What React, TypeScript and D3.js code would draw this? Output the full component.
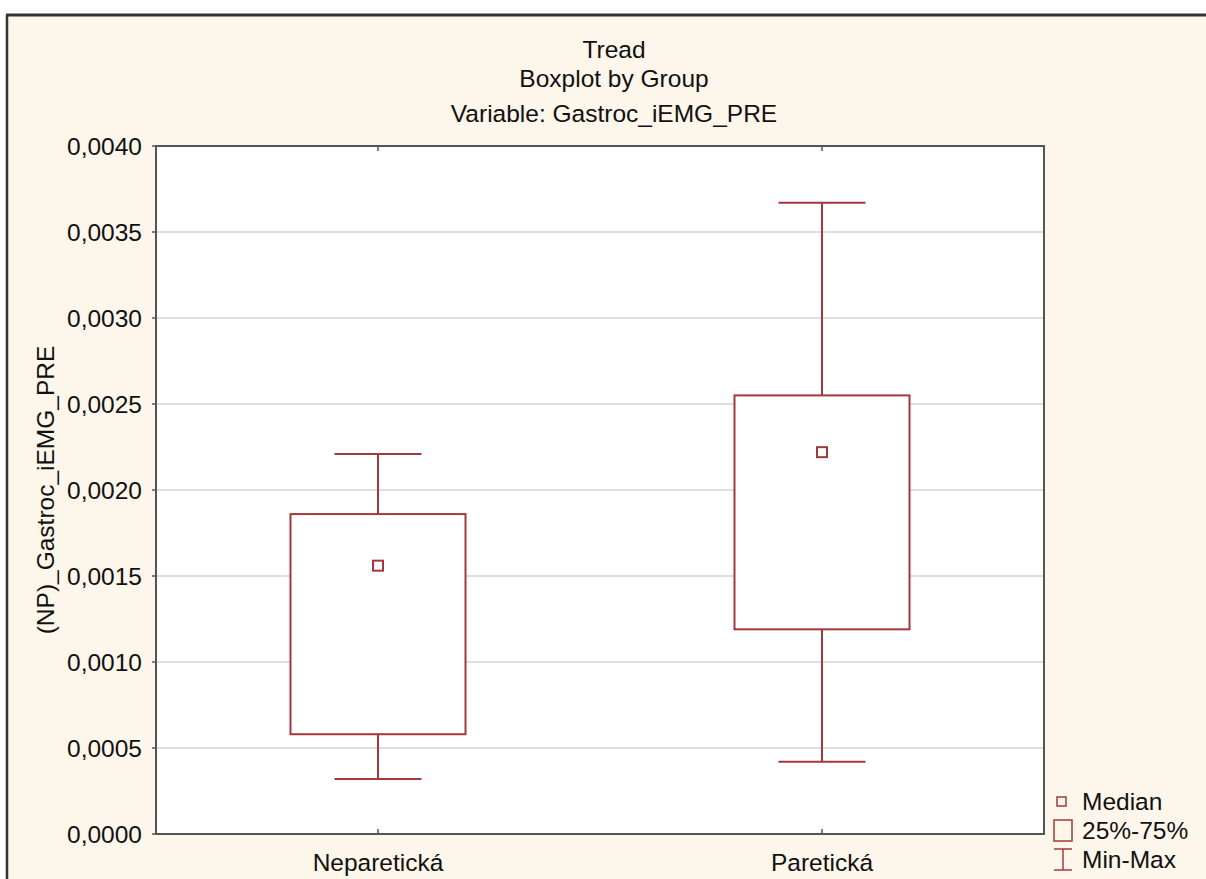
import * as d3 from "d3";

const groups = ["Neparetická", "Paretická"];
const mins = [0.00032, 0.00042];
const q1s = [0.00058, 0.00119];
const medians = [0.00156, 0.00222];
const q3s = [0.00186, 0.00255];
const maxs = [0.00221, 0.00367];
const yTicks = [0, 0.0005, 0.001, 0.0015, 0.002, 0.0025, 0.003, 0.0035, 0.004];
const legendItems = ["Median", "25%-75%", "Min-Max"];
const titleLines = ["Tread", "Boxplot by Group", "Variable: Gastroc_iEMG_PRE"];

export default function App() {
  const W = 1206;
  const H = 879;
  const m = { left: 156, right: 1044, top: 146, bottom: 834 };
  const red = "#a3393c";
  const font = "'Liberation Sans', Arial, sans-serif";
  const fs = 24.5;

  const y = d3.scaleLinear().domain([0, 0.004]).range([m.bottom, m.top]);
  const x = d3.scalePoint<string>().domain(groups).range([m.left, m.right]).padding(0.5);
  const fmt = (v: number) => d3.format(".4f")(v).replace(".", ",");
  const boxW = 175;
  const capW = 87;

  return (
    <svg width={W} height={H} style={{ position: "absolute", left: 0, top: 0, fontFamily: font }}>
      <rect x={0} y={0} width={W} height={H} fill="#ffffff" />
      <rect x={7} y={16} width={W} height={H} fill="#fdf6ea" />
      <line x1={6} x2={W} y1={15} y2={15} stroke="#333" strokeWidth={3} />
      <line x1={7} x2={7} y1={15} y2={H} stroke="#333" strokeWidth={2.5} />

      {titleLines.map((t, i) => (
        <text key={t} x={614} y={[58, 87, 122][i]} textAnchor="middle" fontSize={fs} fill="#111">{t}</text>
      ))}

      <rect x={m.left} y={m.top} width={m.right - m.left} height={m.bottom - m.top} fill="#fff" />
      {yTicks.slice(1, -1).map((t) => (
        <line key={t} x1={m.left} x2={m.right} y1={y(t)} y2={y(t)} stroke="#dedede" strokeWidth={2} />
      ))}
      {yTicks.map((t) => (
        <g key={"t" + t}>
          <line x1={m.left - 4} x2={m.left} y1={y(t)} y2={y(t)} stroke="#555" strokeWidth={1.5} />
          <text x={142} y={y(t) + 9} textAnchor="end" fontSize={fs} fill="#111">{fmt(t)}</text>
        </g>
      ))}
      {groups.map((g) => (
        <g key={"xt" + g}>
          <line x1={x(g)!} x2={x(g)!} y1={m.top} y2={m.top + 5} stroke="#555" strokeWidth={1.5} />
          <line x1={x(g)!} x2={x(g)!} y1={m.bottom} y2={m.bottom - 5} stroke="#555" strokeWidth={1.5} />
          <text x={x(g)!} y={871} textAnchor="middle" fontSize={fs} fill="#111">{g}</text>
        </g>
      ))}

      {groups.map((g, i) => {
        const cx = x(g)!;
        return (
          <g key={"b" + g} stroke={red} strokeWidth={2} fill="none">
            <line x1={cx - capW / 2} x2={cx + capW / 2} y1={y(maxs[i])} y2={y(maxs[i])} />
            <line x1={cx} x2={cx} y1={y(maxs[i])} y2={y(q3s[i])} />
            <rect x={cx - boxW / 2} y={y(q3s[i])} width={boxW} height={y(q1s[i]) - y(q3s[i])} fill="#fff" />
            <line x1={cx} x2={cx} y1={y(q1s[i])} y2={y(mins[i])} />
            <line x1={cx - capW / 2} x2={cx + capW / 2} y1={y(mins[i])} y2={y(mins[i])} />
            <rect x={cx - 5} y={y(medians[i]) - 5} width={10} height={10} />
          </g>
        );
      })}

      <rect x={m.left} y={m.top} width={m.right - m.left} height={m.bottom - m.top} fill="none" stroke="#555" strokeWidth={2} />

      <text transform={`translate(54,490) rotate(-90)`} textAnchor="middle" fontSize={fs} fill="#111">
        (NP)_Gastroc_iEMG_PRE
      </text>

      <g>
        <rect x={1057} y={797} width={9} height={9} fill="none" stroke={red} strokeWidth={1.5} />
        <rect x={1054} y={820} width={18} height={21} fill="none" stroke={red} strokeWidth={1.5} />
        <g stroke={red} strokeWidth={1.5}>
          <line x1={1054} x2={1072} y1={849} y2={849} />
          <line x1={1063} x2={1063} y1={849} y2={870} />
          <line x1={1054} x2={1072} y1={870} y2={870} />
        </g>
        {legendItems.map((t, i) => (
          <text key={t} x={1082} y={810 + i * 29} fontSize={fs} fill="#111">{t}</text>
        ))}
      </g>
    </svg>
  );
}
